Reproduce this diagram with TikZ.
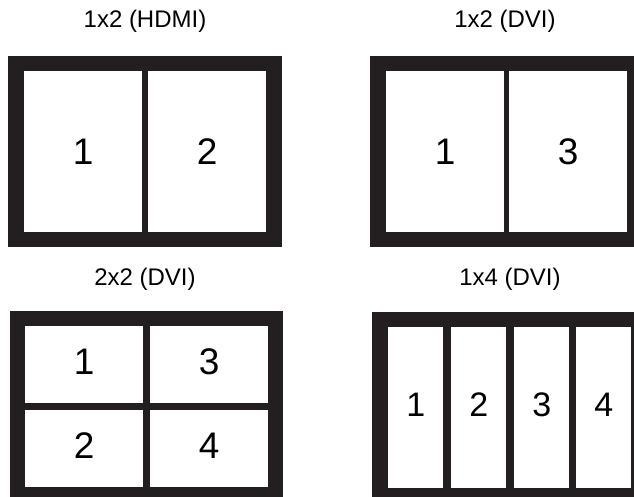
\documentclass[tikz,border=0pt]{standalone}
\usepackage{fontspec}
\setmainfont{Liberation Sans}
\definecolor{framecol}{HTML}{231F20}
\begin{document}
\begin{tikzpicture}[x=1pt,y=-1pt,
  frm/.style={fill=framecol},
  pane/.style={fill=white, draw=none, inner sep=0pt, anchor=north west},
  big/.style={font=\fontsize{37}{37}\selectfont},
  mid/.style={font=\fontsize{34}{34}\selectfont},
  raised/.style={text depth=6pt},
  ttl/.style={font=\fontsize{24}{24}\selectfont, inner sep=0pt}]
\useasboundingbox (0,0) rectangle (634,497);
\fill[white] (0,0) rectangle (634,497);
% titles
\node[ttl] (t1) at (145,21) {1x2 (HDMI)};
\node[ttl] (t2) at (505,21) {1x2 (DVI)};
\node[ttl] (t3) at (145,279) {2x2 (DVI)};
\node[ttl] (t4) at (510,279) {1x4 (DVI)};
% panel 1
\fill[frm] (8,56) rectangle (282,247);
\node[pane,big,minimum width=118pt,minimum height=161pt] (p1a) at (24,71) {1};
\node[pane,big,minimum width=118pt,minimum height=161pt] (p1b) at (148,71) {2};
% panel 2
\fill[frm] (370,56) rectangle (634,247);
\node[pane,big,minimum width=118pt,minimum height=161pt] (p2a) at (386,71) {1};
\node[pane,big,minimum width=118pt,minimum height=161pt] (p2b) at (509,71) {3};
% panel 3
\fill[frm] (10,311) rectangle (283,497);
\node[pane,big,raised,minimum width=118pt,minimum height=77pt] (p3a) at (25,326) {1};
\node[pane,big,raised,minimum width=118pt,minimum height=77pt] (p3b) at (150,326) {3};
\node[pane,big,raised,minimum width=118pt,minimum height=77pt] (p3c) at (25,410) {2};
\node[pane,big,raised,minimum width=118pt,minimum height=77pt] (p3d) at (150,410) {4};
% panel 4
\fill[frm] (372,312) rectangle (634,497);
\node[pane,mid,raised,minimum width=55pt,minimum height=161pt] (p4a) at (388,327) {1};
\node[pane,mid,raised,minimum width=55pt,minimum height=161pt] (p4b) at (451,327) {2};
\node[pane,mid,raised,minimum width=55pt,minimum height=161pt] (p4c) at (514,327) {3};
\node[pane,mid,raised,minimum width=55pt,minimum height=161pt] (p4d) at (576,327) {4};
\end{tikzpicture}
\end{document}
